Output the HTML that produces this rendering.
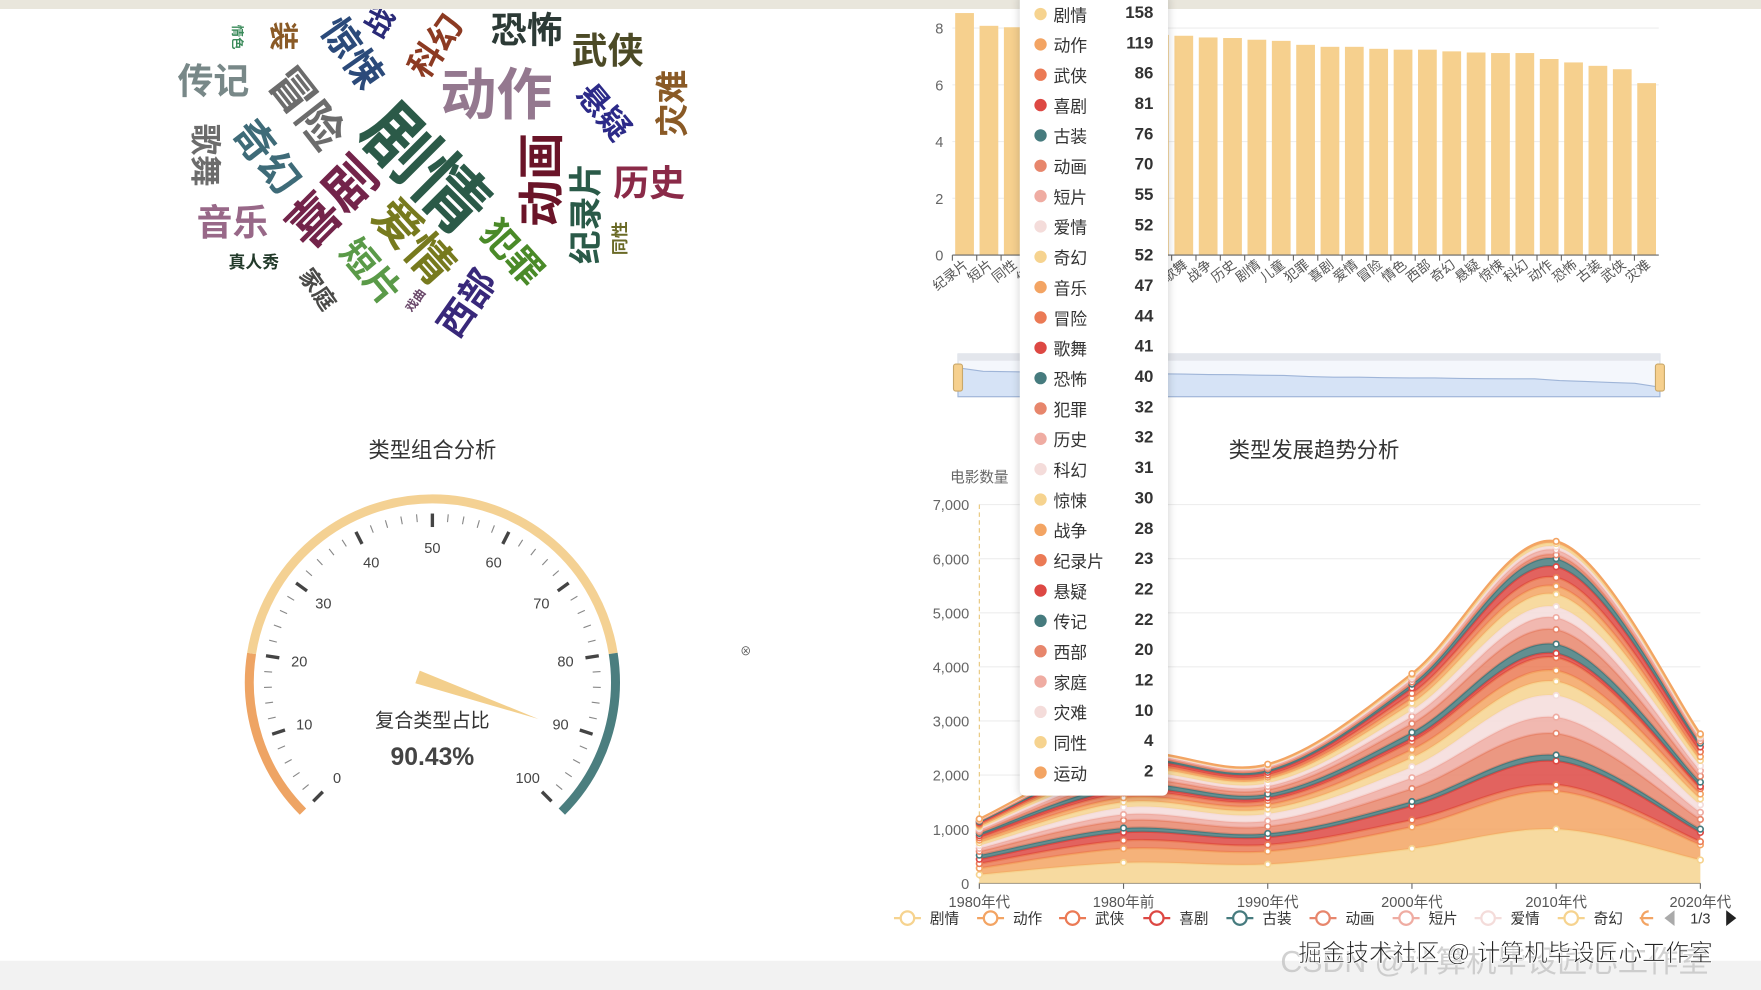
<!DOCTYPE html>
<html><head><meta charset="utf-8">
<style>
html,body{margin:0;padding:0;background:#fff;overflow:hidden;}
#root{position:absolute;left:0;top:0;width:1568px;height:881px;transform:scale(1.12309,1.12372);transform-origin:0 0;font-family:"Liberation Sans","Noto Sans CJK SC",sans-serif;background:#fff;overflow:hidden;}
.w{position:absolute;white-space:nowrap;font-weight:bold;transform-origin:center center;line-height:1;}
.ttrow{position:absolute;left:0;width:132px;height:20px;font-size:15px;color:#333;}
</style></head><body>
<div id="root">
<div style="position:absolute;left:0;top:0;width:1568px;height:8px;background:#e9e6dc"></div>
<div style="position:absolute;left:0;top:855px;width:1568px;height:26px;background:#f2f2f2"></div>

<div id="cloud" style="position:absolute;left:0;top:8px;width:700px;height:300px;overflow:hidden"></div>

<div style="position:absolute;left:285px;top:386px;width:200px;text-align:center;font-size:19px;color:#333">类型组合分析</div>
<svg id="gauge" style="position:absolute;left:0;top:0" width="780" height="850"></svg>

<svg id="bar" style="position:absolute;left:0;top:0" width="1568" height="360"></svg>

<div style="position:absolute;left:1070px;top:386px;width:200px;text-align:center;font-size:19px;color:#333">类型发展趋势分析</div>
<svg id="stream" style="position:absolute;left:0;top:0" width="1568" height="881"></svg>

<div id="tooltip" style="position:absolute;left:908px;top:-6px;width:132px;height:714px;background:#fff;border-radius:5px;box-shadow:0 1px 8px rgba(0,0,0,0.18)"></div>

<div style="position:absolute;left:1140px;top:834px;font-size:27px;color:rgba(190,190,190,0.7);white-space:nowrap">CSDN @计算机毕设匠心工作室</div>
<div style="position:absolute;left:1156px;top:832px;font-size:21px;color:#222;white-space:nowrap;-webkit-text-stroke:0.6px #fff;text-shadow:0 0 2px #fff">掘金技术社区 @ 计算机毕设匠心工作室</div>
<div style="position:absolute;left:659px;top:571px;font-size:10px;color:#555">⊗</div>
</div>

<script>
var NS='http://www.w3.org/2000/svg';
function mk(parent,tag,attrs){var e=document.createElementNS(NS,tag);for(var k in attrs)e.setAttribute(k,attrs[k]);parent.appendChild(e);return e;}

// ---------- word cloud ----------
var cloudWords=['剧情','动作','喜剧','爱情','冒险','奇幻','惊悚','科幻','恐怖','武侠','悬疑','灾难','传记','歌舞','音乐','动画','纪录片','历史','同性','犯罪','西部','短片','家庭','戏曲','真人秀','装','战','情色'];
var cloudSpec=[[378,142,64,45,'#2b5a48'],[442,77,50,0,'#94788f'],[296,172,46,-45,'#73244a'],[368,207,42,48,'#777a1e'],[272,89,40,52,'#6c6c6c'],[237,132,36,52,'#3e6b78'],[313,40,34,55,'#2b4a7a'],[389,34,30,-55,'#8c3a22'],[469,19,32,0,'#2c3a36'],[541,37,32,0,'#4c4a26'],[537,92,28,50,'#2c2a88'],[600,84,30,-90,'#8a5a26'],[190,64,32,0,'#788888'],[182,130,28,90,'#6c6c6c'],[207,190,32,0,'#986888'],[483,152,42,-90,'#6a1428'],[523,182,30,-90,'#2a5a48'],[578,155,32,0,'#8a2a48'],[553,204,15,-90,'#6a6a26'],[456,217,32,48,'#4a8a28'],[416,262,32,-55,'#38287a'],[330,234,32,50,'#5a9a48'],[282,250,20,55,'#4a4a48'],[371,260,11,-55,'#6a486a'],[226,226,15,0,'#223a2a'],[252,24,26,90,'#8a5a26'],[338,12,26,-60,'#2a2a78'],[210,25,11,90,'#3a8a5a']];
var cloud=document.getElementById('cloud');
cloudWords.forEach(function(w,i){var s=cloudSpec[i];var d=document.createElement('div');d.className='w';d.textContent=w;
d.style.fontSize=s[2]+'px';d.style.color=s[4];d.style.left=s[0]+'px';d.style.top=s[1]+'px';
d.style.transform='translate(-50%,-50%) rotate('+s[3]+'deg)';


cloud.appendChild(d);});

// ---------- gauge ----------
var gaugeValue=90.43;
var gaugeLabels=[0,10,20,30,40,50,60,70,80,90,100];
(function(){var g=document.getElementById('gauge');var cx=385,cy=607;
function ang(v){return (225-v*2.7)*Math.PI/180;}
function pt(v,r){var a=ang(v);return [cx+r*Math.cos(a),cy-r*Math.sin(a)];}
function arc(v0,v1,r,col){var p0=pt(v0,r),p1=pt(v1,r);var large=(v1-v0)*2.7>180?1:0;
var e=mk(g,'path',{d:'M'+p0[0]+','+p0[1]+' A'+r+','+r+' 0 '+large+',1 '+p1[0]+','+p1[1],fill:'none',stroke:col,'stroke-width':8});
}
arc(0,20,163,'#eea464');arc(20,80,163,'#f4d193');arc(80,100,163,'#4b7e7f');
for(var i=0;i<=50;i++){var v=i*2;var major=i%5==0;var p0=pt(v,major?138:143),p1=pt(v,150);
var col=v<=20?'#eea464':(v>=80?'#4b7e7f':'#555');if(!major)col='#777';
var t=mk(g,'line',{x1:p0[0],y1:p0[1],x2:p1[0],y2:p1[1],stroke:major?'#444':'#888','stroke-width':major?3:1});
}
gaugeLabels.forEach(function(v){var p=pt(v,120);var t=mk(g,'text',{x:p[0],y:p[1]+5,'text-anchor':'middle','font-size':13,fill:'#444'});t.textContent=v;
});
var a=ang(gaugeValue);var ux=Math.cos(a),uy=-Math.sin(a);var nx=-uy,ny=ux;
var tip=[cx+100*ux,cy+100*uy],tail=[cx-14*ux,cy-14*uy];
var pts=[tip,[tail[0]+6*nx,tail[1]+6*ny],[tail[0]-6*nx,tail[1]-6*ny]].map(function(p){return p.join(',')}).join(' ');
var n=mk(g,'polygon',{points:pts,fill:'#f3cf8c'});
var t1=mk(g,'text',{x:385,y:647,'text-anchor':'middle','font-size':17,fill:'#333'});t1.textContent='复合类型占比';

var t2=mk(g,'text',{x:385,y:681,'text-anchor':'middle','font-size':22,'font-weight':'bold',fill:'#444'});t2.textContent=gaugeValue.toFixed(2)+'%';

})();

// ---------- bar chart ----------
var barCategories=['纪录片','短片','同性','传记','动画','音乐','家庭','运动','真人秀','歌舞','战争','历史','剧情','儿童','犯罪','喜剧','爱情','冒险','情色','西部','奇幻','悬疑','惊悚','科幻','动作','恐怖','古装','武侠','灾难'];
var barValues=[8.53,8.08,8.03,7.98,7.92,7.88,7.84,7.8,7.76,7.73,7.67,7.65,7.59,7.55,7.41,7.34,7.34,7.27,7.24,7.24,7.18,7.14,7.12,7.12,6.91,6.79,6.67,6.55,6.06];
var barTicks=[0,2,4,6,8];
(function(){var g=document.getElementById('bar');var x0=848,x1=1477,y0=227,k=25.25;var bw=(x1-x0)/barCategories.length;
function Y(v){return y0-v*k;}
barTicks.forEach(function(t){var l=mk(g,'line',{x1:x0,x2:x1,y1:Y(t),y2:Y(t),stroke:'#eee'});
var tx=mk(g,'text',{x:840,y:Y(t)+5,'text-anchor':'end','font-size':13,fill:'#666'});tx.textContent=t;});
barValues.forEach(function(v,i){var r=mk(g,'rect',{x:x0+i*bw+2.5,y:Y(v),width:bw-5,height:v*k,fill:'#f6d08e'});
});
var ax=mk(g,'line',{x1:x0,x2:x1,y1:y0,y2:y0,stroke:'#666'});
barCategories.forEach(function(c,i){var x=x0+i*bw;var tk=mk(g,'line',{x1:x,x2:x,y1:y0,y2:y0+5,stroke:'#666'});
var cxp=x+bw/2+4;var t=mk(g,'text',{x:cxp,y:y0+10,'text-anchor':'end','font-size':12,fill:'#555',transform:'rotate(-38 '+cxp+' '+(y0+10)+')'});t.textContent=c;
});
// data zoom slider
var s=mk(g,'rect',{x:853,y:315,width:625,height:38,fill:'#f4f7fc',stroke:'#d8dde6'});
var sb=mk(g,'rect',{x:853,y:315,width:625,height:6,fill:'#e3e6ec'});
var d='M853,'+(345-(barValues[0]-6)*7);barValues.forEach(function(v,i){d+=' L'+(853+i*625/(barValues.length-1))+','+(345-(v-6)*7);});
var area=mk(g,'path',{d:d+' L1478,353 L853,353 Z',fill:'#d6e3f6',stroke:'#9fb5d8','stroke-width':1});
[849,1474].forEach(function(x){var h=mk(g,'rect',{x:x,y:324,width:8,height:24,rx:2,fill:'#f6d08e',stroke:'#c9a86a'});});
})();

// ---------- stream chart ----------
var streamCategories=['1980年代','1980年前','1990年代','2000年代','2010年代','2020年代'];
var streamTicks=[0,1000,2000,3000,4000,5000,6000,7000];
var seriesNames=['剧情','动作','武侠','喜剧','古装','动画','短片','爱情','奇幻','音乐','冒险','歌舞','恐怖','犯罪','历史','科幻','惊悚','战争','纪录片','悬疑','传记','西部','家庭','灾难','同性','运动'];
var s剧情=[158,380,350,640,1000,430];
var s动作=[119,260,240,400,700,280];
var s武侠=[86,150,120,130,120,60];
var s喜剧=[81,150,140,260,440,170];
var s古装=[76,80,70,80,110,60];
var s动画=[70,140,130,240,400,180];
var s短片=[55,110,100,200,300,130];
var s爱情=[52,130,130,200,400,140];
var s奇幻=[52,100,90,170,260,110];
var s音乐=[47,80,80,150,200,90];
var s冒险=[44,90,80,150,240,100];
var s歌舞=[41,60,50,60,80,40];
var s恐怖=[40,90,70,110,170,80];
var s犯罪=[32,80,80,160,270,110];
var s历史=[32,70,60,130,220,100];
var s科幻=[31,60,60,120,200,90];
var s惊悚=[30,70,70,130,230,100];
var s战争=[28,50,40,90,150,70];
var s纪录片=[23,40,40,90,160,90];
var s悬疑=[22,50,50,100,200,90];
var s传记=[22,40,40,70,150,70];
var s西部=[20,30,30,40,70,40];
var s家庭=[12,30,30,50,90,50];
var s灾难=[10,20,20,40,60,30];
var s同性=[4,15,20,40,60,30];
var s运动=[2,10,10,25,40,20];
var seriesValues=[s剧情,s动作,s武侠,s喜剧,s古装,s动画,s短片,s爱情,s奇幻,s音乐,s冒险,s歌舞,s恐怖,s犯罪,s历史,s科幻,s惊悚,s战争,s纪录片,s悬疑,s传记,s西部,s家庭,s灾难,s同性,s运动];
var palette=['#f6d38f','#f3a463','#eb7a55','#dd4843','#467b7e','#e7866c','#efaca2','#f4dcda'];
(function(){var g=document.getElementById('stream');var x0=872,dx=128.4,y0=786,k=0.04814;
function X(i){return x0+i*dx;}function Y(v){return y0-v*k;}
streamTicks.forEach(function(t){var l=mk(g,'line',{x1:x0,x2:1514,y1:Y(t),y2:Y(t),stroke:t?'#eee':'#666'});
var tx=mk(g,'text',{x:863,y:Y(t)+5,'text-anchor':'end','font-size':13,fill:'#666'});tx.textContent=t.toLocaleString('en-US');});
var yt=mk(g,'text',{x:872,y:429,'text-anchor':'middle','font-size':13,fill:'#666'});yt.textContent='电影数量';
streamCategories.forEach(function(c,i){var tk=mk(g,'line',{x1:X(i),x2:X(i),y1:y0,y2:y0+5,stroke:'#666'});
var t=mk(g,'text',{x:X(i),y:807,'text-anchor':'middle','font-size':13,fill:'#555'});t.textContent=c;});
var ap=mk(g,'line',{x1:x0,x2:x0,y1:449,y2:y0,stroke:'#e8c77a','stroke-dasharray':'4,3'});
function curve(p,rev){if(rev)p=p.slice().reverse();var d='';for(var i=0;i<p.length-1;i++){var p0=p[i-1]||p[i],p1=p[i],p2=p[i+1],p3=p[i+2]||p2;var t=0.5/3;
var c1=[p1[0]+(p2[0]-p0[0])*t,p1[1]+(p2[1]-p0[1])*t],c2=[p2[0]-(p3[0]-p1[0])*t,p2[1]-(p3[1]-p1[1])*t];
d+=' C'+c1+' '+c2+' '+p2;}return d;}
var cum=streamCategories.map(function(){return 0;});var layers=[];
seriesValues.forEach(function(vals,s){var lo=cum.slice();cum=cum.map(function(c,i){return c+vals[i];});layers.push([lo,cum.slice()]);});
layers.forEach(function(L,s){var col=palette[s%8];var lo=L[0].map(function(v,i){return [X(i),Y(v)];}),hi=L[1].map(function(v,i){return [X(i),Y(v)];});
var a=mk(g,'path',{d:'M'+hi[0]+curve(hi)+' L'+lo[lo.length-1]+curve(lo,true)+' Z',fill:col,'fill-opacity':0.85,stroke:'none'});

var ln=mk(g,'path',{d:'M'+hi[0]+curve(hi),fill:'none',stroke:col,'stroke-width':2});});
layers.forEach(function(L,s){var col=palette[s%8];L[1].forEach(function(v,i){var c=mk(g,'circle',{cx:X(i),cy:Y(v),r:2.5,fill:'#fff',stroke:col,'stroke-width':1.5});
});});
// legend
var lx=[808,882,955,1030,1104,1178,1252,1325,1399];
lx.forEach(function(x,i){var col=palette[i%8];var gg=mk(g,'g',{});
mk(gg,'line',{x1:x-12,x2:x+12,y1:817,y2:817,stroke:col,'stroke-width':2});mk(gg,'circle',{cx:x,cy:817,r:6,fill:'#fff',stroke:col,'stroke-width':2});
var t=mk(gg,'text',{x:x+20,y:822,'font-size':13,fill:'#333'});t.textContent=seriesNames[i];});
var pl=mk(g,'path',{d:'M1472,817 L1460,817 M1468,811 A6,6 0 0 0 1468,823',fill:'none',stroke:palette[1],'stroke-width':2});
var pv=mk(g,'polygon',{points:'1491,810 1491,824 1482,817',fill:'#aaa'});
var pt=mk(g,'text',{x:1514,y:822,'text-anchor':'middle','font-size':13,fill:'#333'});pt.textContent='1/3';
var nx=mk(g,'polygon',{points:'1537,810 1537,824 1546,817',fill:'#222'});
})();

// ---------- tooltip ----------
var tipNames=seriesNames;
var tipValues=[158,119,86,81,76,70,55,52,52,47,44,41,40,32,32,31,30,28,23,22,22,20,12,10,4,2];
(function(){var tt=document.getElementById('tooltip');tipNames.forEach(function(n,i){var r=document.createElement('div');r.className='ttrow';r.style.top=(9+i*27)+'px';


r.innerHTML='<span style="position:absolute;left:13px;top:4px;width:11px;height:11px;border-radius:50%;background:'+palette[i%8]+'"></span><span style="position:absolute;left:30px;top:0">'+n+'</span><span style="position:absolute;right:13px;top:0;font-weight:bold">'+tipValues[i]+'</span>';
tt.appendChild(r);});})();
</script>
</body></html>
